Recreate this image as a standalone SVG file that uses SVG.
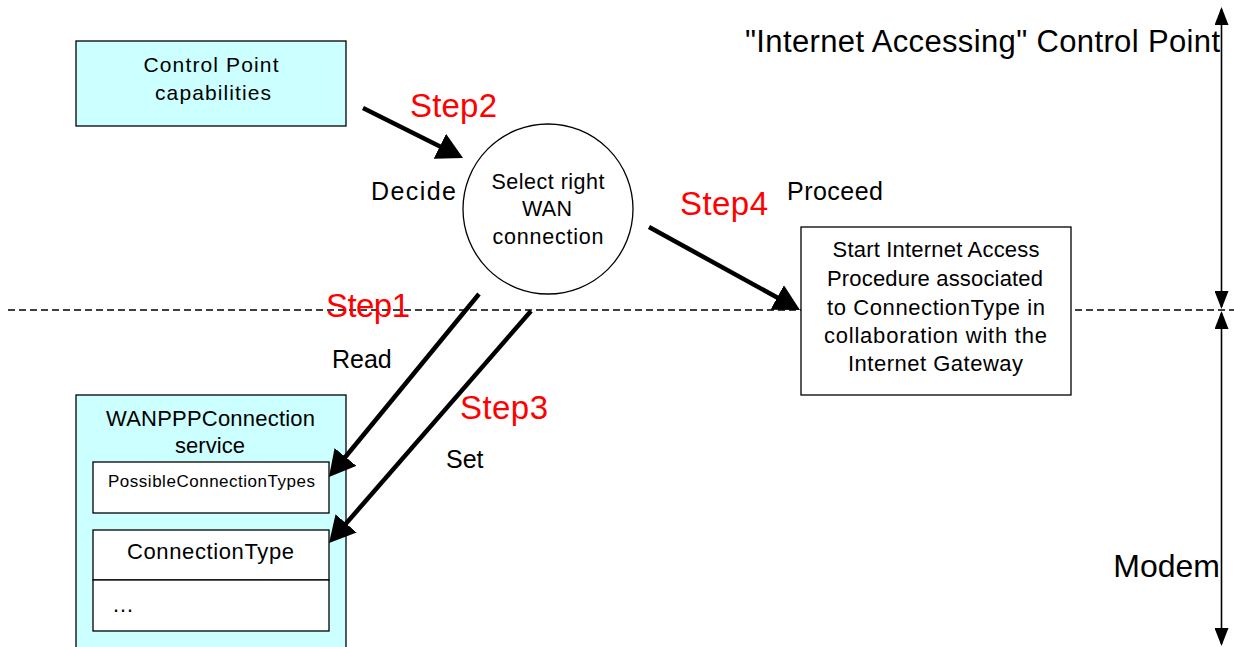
<svg xmlns="http://www.w3.org/2000/svg" width="1234" height="647" viewBox="0 0 1234 647">
<style>
text{font-family:"Liberation Sans",Arial,sans-serif;fill:#000}
.box{stroke:#000;stroke-width:1.3}
.cyan{fill:#ccffff}
.white{fill:#fff}
.step{fill:#ff0000;font-size:33px}
.lbl{font-size:25px}
.c{text-anchor:middle}
.arr{stroke:#000;stroke-width:4.5;fill:none}
.vline{stroke:#000;stroke-width:1.6;fill:none}
</style>
<defs>
<marker id="big" markerUnits="userSpaceOnUse" markerWidth="28" markerHeight="28" refX="16" refY="14" orient="auto">
<path d="M0,0 L26,14 L0,28 z" fill="#000"/>
</marker>
<marker id="small" markerUnits="userSpaceOnUse" markerWidth="18" markerHeight="14" refX="16" refY="7" orient="auto-start-reverse">
<path d="M0,0 L18,7 L0,14 z" fill="#000"/>
</marker>
</defs>

<line x1="8" y1="310" x2="1234" y2="310" stroke="#000" stroke-width="1.6" stroke-dasharray="7,4"/>

<g id="cp-capabilities">
<rect class="box cyan" x="76" y="41" width="270" height="85"/>
<text class="c" x="211" y="72" font-size="21" textLength="135" lengthAdjust="spacing">Control Point</text>
<text class="c" x="213" y="100" font-size="21" textLength="116" lengthAdjust="spacing">capabilities</text>
</g>

<g id="select-wan">
<circle class="box white" cx="548" cy="209" r="85"/>
<text class="c" x="548" y="189" font-size="21.5" textLength="113" lengthAdjust="spacing">Select right</text>
<text class="c" x="547" y="216" font-size="21.5" textLength="50" lengthAdjust="spacing">WAN</text>
<text class="c" x="548" y="244" font-size="21.5" textLength="111" lengthAdjust="spacing">connection</text>
</g>

<g id="start-internet">
<rect class="box white" x="801" y="227" width="270" height="168"/>
<text class="c" x="936" y="257" font-size="22" textLength="207" lengthAdjust="spacing">Start Internet Access</text>
<text class="c" x="935" y="286" font-size="22" textLength="216" lengthAdjust="spacing">Procedure associated</text>
<text class="c" x="936" y="315" font-size="22" textLength="218" lengthAdjust="spacing">to ConnectionType in</text>
<text class="c" x="935.5" y="343" font-size="22" textLength="223" lengthAdjust="spacing">collaboration with the</text>
<text class="c" x="935.5" y="371" font-size="22" textLength="175" lengthAdjust="spacing">Internet Gateway</text>
</g>

<g id="wanppp-service">
<rect class="box cyan" x="76" y="395" width="270" height="262"/>
<text class="c" x="210.5" y="426" font-size="22" textLength="209" lengthAdjust="spacing">WANPPPConnection</text>
<text class="c" x="210" y="453" font-size="22" textLength="70" lengthAdjust="spacing">service</text>
<g id="possible-types">
<rect class="box white" x="93" y="462" width="236" height="51"/>
<text class="c" x="211.5" y="487" font-size="17" textLength="207" lengthAdjust="spacing">PossibleConnectionTypes</text>
</g>
<g id="connection-type">
<rect class="box white" x="93" y="530" width="236" height="50"/>
<text class="c" x="210.5" y="559" font-size="22" textLength="167" lengthAdjust="spacing">ConnectionType</text>
</g>
<g id="ellipsis">
<rect class="box white" x="93" y="580" width="236" height="51"/>
<text x="112" y="612" font-size="22">…</text>
</g>
</g>

<g id="connectors">
<line class="arr" x1="363" y1="108" x2="454.1" y2="153.5" marker-end="url(#big)"/>
<line class="arr" x1="649" y1="227" x2="791.2" y2="305.2" marker-end="url(#big)"/>
<line class="arr" x1="479" y1="294" x2="335.3" y2="469.3" marker-end="url(#big)"/>
<line class="arr" x1="531" y1="311" x2="335.6" y2="535.5" marker-end="url(#big)"/>
<line class="vline" x1="1221.5" y1="9" x2="1221.5" y2="307" marker-start="url(#small)" marker-end="url(#small)"/>
<line class="vline" x1="1221.5" y1="313" x2="1221.5" y2="644" marker-start="url(#small)" marker-end="url(#small)"/>
</g>

<g id="labels">
<text class="step" x="410" y="117" textLength="87" lengthAdjust="spacing">Step2</text>
<text class="lbl" x="371" y="200" textLength="85" lengthAdjust="spacing">Decide</text>
<text class="step" x="680" y="215" textLength="88" lengthAdjust="spacing">Step4</text>
<text class="lbl" x="787" y="200" textLength="96" lengthAdjust="spacing">Proceed</text>
<text class="step" x="326" y="317" textLength="84" lengthAdjust="spacing">Step1</text>
<text class="lbl" x="332" y="368">Read</text>
<text class="step" x="460" y="419" textLength="88" lengthAdjust="spacing">Step3</text>
<text class="lbl" x="446" y="468">Set</text>
<text x="745" y="52" font-size="31" textLength="475" lengthAdjust="spacing">"Internet Accessing" Control Point</text>
<text x="1220" y="577" font-size="32" text-anchor="end">Modem</text>
</g>
</svg>
